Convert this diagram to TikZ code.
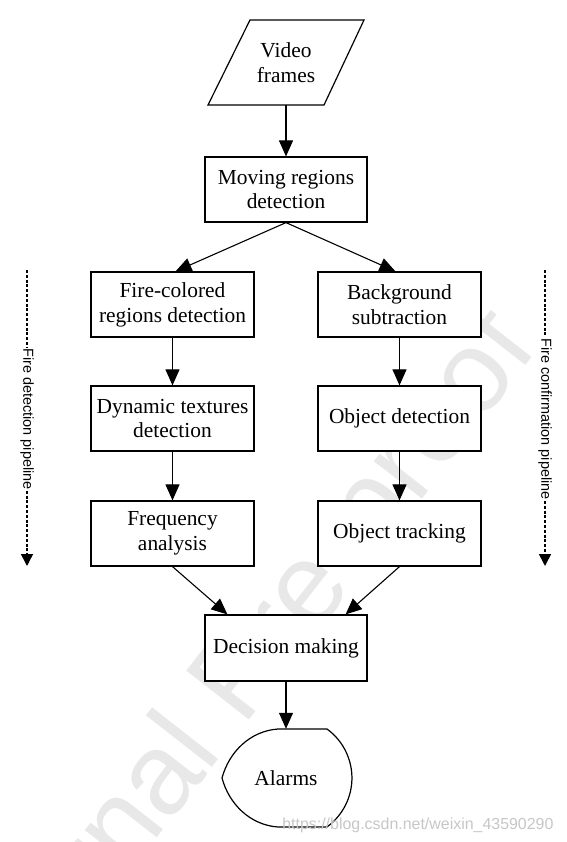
\documentclass[tikz,border=0pt]{standalone}
\usepackage{fontspec}
\setmainfont{Liberation Serif}
\newfontfamily\arialf{Liberation Sans}
\usetikzlibrary{arrows.meta}
\begin{document}
\begin{tikzpicture}[x=1bp,y=-1bp,
  box/.style={draw, fill=white, line width=1.2bp, minimum width=163bp, minimum height=65bp, inner sep=0pt, align=center, font=\fontsize{21.5}{25}\selectfont},
  arr/.style={-{Triangle[length=16bp,width=14bp]}, line width=1.1bp},
  sideline/.style={line width=1.6bp, dash pattern=on 3bp off 1.8bp},
  sidelab/.style={rotate=-90, fill=white, inner sep=1bp, font=\arialf\fontsize{14.5}{16}\selectfont},
  shapeline/.style={line width=1.2bp, fill=white}]
\useasboundingbox (0,0) rectangle (567,842);
\fill[white] (0,0) rectangle (567,842);
% watermark
\node (wm) [anchor=base, rotate=52, text=black!9, font=\arialf\fontsize{116}{116}\selectfont] at (265,700) {Journal Pre-proof};
% input
\draw[shapeline] (250,20) -- (364,20) -- (324,105) -- (208,105) -- cycle;
\node (vid) [minimum height=85bp, inner sep=0pt, align=center, font=\fontsize{21.5}{25}\selectfont] at (286,62.5) {Video\\frames};
\node (mov) [box, minimum width=162bp] at (286,189.5) {Moving regions\\detection};
\node (fire) [box] at (172.5,304.5) {Fire-colored\\regions detection};
\node (bg) [box] at (399.5,304.5) {Background\\subtraction};
\node (dyn) [box] at (172.5,418.5) {Dynamic textures\\detection};
\node (objd) [box] at (399.5,418.5) {Object detection};
\node (freq) [box] at (172.5,533.5) {Frequency\\analysis};
\node (objt) [box] at (399.5,533.5) {Object tracking};
\node (dec) [box, minimum width=162bp, minimum height=66bp] at (286,648) {Decision making};
% alarms
\draw[shapeline] (278,729) -- (327,729) arc[start angle=54, end angle=-54, radius=60.5bp] -- (278,827)
  .. controls (250,825) and (229,804) .. (222,778)
  .. controls (229,752) and (250,731) .. (278,729) -- cycle;
\node (alarm) [minimum height=98bp, inner sep=0pt, font=\fontsize{21.5}{25}\selectfont] at (286,778) {Alarms};
% connectors
\draw[arr] (vid.south) -- (mov.north);
\draw[arr] (mov.south) -- ([xshift=3bp]fire.north);
\draw[arr] (mov.south) -- ([xshift=-4bp]bg.north);
\draw[arr] (fire) -- (dyn);
\draw[arr] (dyn) -- (freq);
\draw[arr] (bg) -- (objd);
\draw[arr] (objd) -- (objt);
\draw[arr] (freq.south) -- ([xshift=23bp]dec.north west);
\draw[arr] (objt.south) -- ([xshift=-22bp]dec.north east);
\draw[arr] (dec.south) -- (alarm.north);
% side pipelines
\coordinate (lt) at (27,270);
\coordinate (lb) at (27,566);
\node (ll) [sidelab] at (27,419) {Fire detection pipeline};
\draw[sideline] (lt) -- (ll);
\draw[sideline, -{Triangle[length=12bp,width=12bp]}] (ll) -- (lb);
\coordinate (rt) at (545,270);
\coordinate (rb) at (545,566);
\node (rl) [sidelab] at (545,419) {Fire confirmation pipeline};
\draw[sideline] (rt) -- (rl);
\draw[sideline, -{Triangle[length=12bp,width=12bp]}] (rl) -- (rb);
% csdn watermark
\node (csdn) [anchor=base east, text=black!22, font=\arialf\fontsize{16}{16}\selectfont] at (557,829) {https://blog.csdn.net/weixin\_43590290};
\end{tikzpicture}
\end{document}
